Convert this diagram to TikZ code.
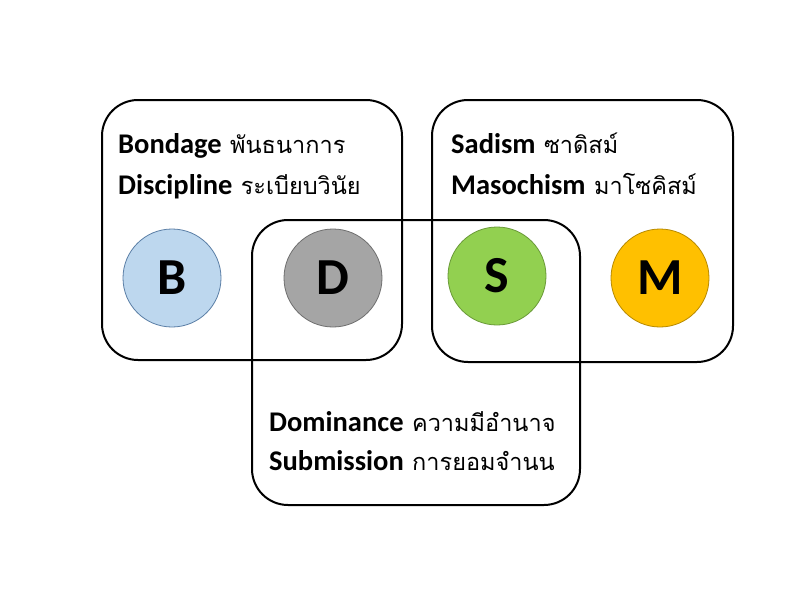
\documentclass[tikz,border=0pt]{standalone}
\usepackage{fontspec}
\setmainfont{Carlito}
\newfontfamily\thaifont[Script=Thai]{Loma}
\definecolor{bfill}{HTML}{BDD7EE}
\definecolor{bline}{HTML}{5B7FA6}
\definecolor{dfill}{HTML}{A5A5A5}
\definecolor{dline}{HTML}{6F6F6F}
\definecolor{sfill}{HTML}{92D050}
\definecolor{sline}{HTML}{6A9A38}
\definecolor{mfill}{HTML}{FFC000}
\definecolor{mline}{HTML}{B88A00}
\newcommand\thaiword[1]{\hspace{2pt}{\thaifont\mdseries\fontsize{23.5}{24}\selectfont #1}}
\begin{document}
\begin{tikzpicture}[x=1pt,y=-1pt,
  groupbox/.style={draw=black,line width=2pt,rounded corners=36pt},
  letter/.style={circle,minimum size=98pt,inner sep=0pt,line width=0.8pt,
    font=\fontsize{52}{52}\selectfont\bfseries},
  label/.style={anchor=base west,inner sep=0pt,font=\fontsize{28.5}{30}\selectfont\bfseries}]
\useasboundingbox (0,0) rectangle (800,600);
\fill[white] (0,0) rectangle (800,600);
\draw[groupbox] (102,100) rectangle (402,360);
\draw[groupbox] (432,100) rectangle (733,362);
\draw[groupbox] (252,220) rectangle (580,505);
\node[letter,fill=bfill,draw=bline] (B) at (172,278) {B};
\node[letter,fill=dfill,draw=dline] (D) at (333,278) {D};
\node[letter,fill=sfill,draw=sline] (S) at (497,276) {S};
\node[letter,fill=mfill,draw=mline] (M) at (660,278) {M};
\node[label] (t1) at (118,153) {Bondage \thaiword{พันธนาการ}};
\node[label] (t2) at (118,194) {Discipline \thaiword{ระเบียบวินัย}};
\node[label] (t3) at (451,153) {Sadism \thaiword{ซาดิสม์}};
\node[label] (t4) at (451,194) {Masochism \thaiword{มาโซคิสม์}};
\node[label] (t5) at (269,431) {Dominance \thaiword{ความมีอำนาจ}};
\node[label] (t6) at (269,470) {Submission \thaiword{การยอมจำนน}};
\end{tikzpicture}
\end{document}
